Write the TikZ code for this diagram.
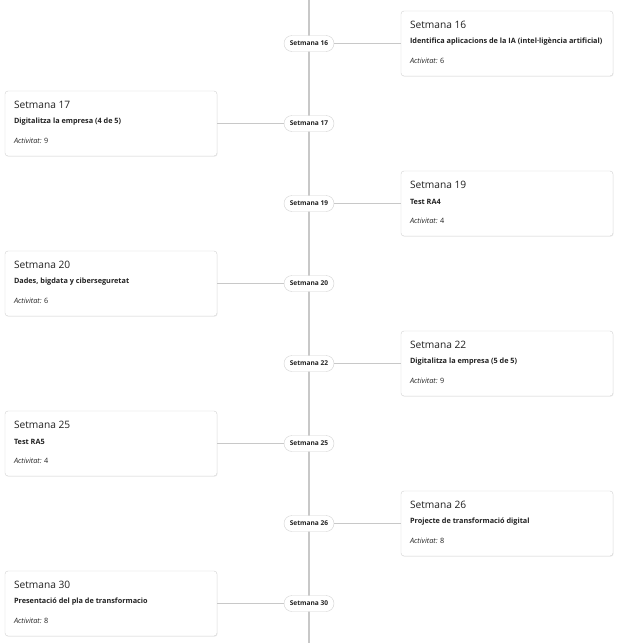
\documentclass[tikz,border=0pt]{standalone}
\usepackage{fontspec}
\setmainfont{Open Sans}
\usetikzlibrary{shadows}
\definecolor{lineg}{HTML}{C8C8C8}
\definecolor{boxg}{HTML}{D2D2D2}
\definecolor{txt}{HTML}{222222}
\tikzset{
  pill/.style={draw=boxg, fill=white, rounded corners=8pt, minimum width=50pt, minimum height=16pt, inner sep=0pt, font=\fontsize{6.6}{7}\selectfont\bfseries, text=txt},
  card/.style={draw=boxg, fill=white, rounded corners=3pt, minimum width=212pt, minimum height=65pt, inner sep=0pt, drop shadow={shadow xshift=0.6pt, shadow yshift=-0.8pt, opacity=0.12}},
  ttl/.style={anchor=west, inner sep=0pt, font=\fontsize{10.2}{12}\selectfont, text=txt},
  sub/.style={anchor=west, inner sep=0pt, font=\fontsize{7.3}{9}\selectfont\bfseries, text=txt},
  act/.style={anchor=west, inner sep=0pt, font=\fontsize{7.3}{9}\selectfont, text=txt},
  conn/.style={draw=lineg, line width=0.9pt},
  spine/.style={draw=lineg, line width=2pt}
}
\newcommand{\entry}[6]{% name, side x-center, y, week, subtitle, activity
  \node[card] (#1c) at (#2,#3) {};
  \node[ttl] (#1t) at ([xshift=9pt,yshift=-14pt]#1c.north west) {Setmana #4};
  \node[sub] (#1s) at ([xshift=9pt,yshift=-31pt]#1c.north west) {#5};
  \node[act] (#1a) at ([xshift=9pt,yshift=-50.5pt]#1c.north west) {\textit{Activitat:} #6};
  \node[pill] (#1p) at (309,#3) {Setmana #4};
  \draw[conn] (#1p) -- (#1c);
}
\begin{document}
\begin{tikzpicture}[x=1pt,y=-1pt]
\useasboundingbox (0,0) rectangle (622,643);
\coordinate (top) at (309,0);
\coordinate (bot) at (309,643);
\draw[spine] (top) -- (bot);
\entry{a}{507}{43.5}{16}{Identifica aplicacions de la IA (intel·ligència artificial)}{6}
\entry{b}{111}{123.5}{17}{Digitalitza la empresa (4 de 5)}{9}
\entry{c}{507}{203.5}{19}{Test RA4}{4}
\entry{d}{111}{283.5}{20}{Dades, bigdata y ciberseguretat}{6}
\entry{e}{507}{363.5}{22}{Digitalitza la empresa (5 de 5)}{9}
\entry{f}{111}{443.5}{25}{Test RA5}{4}
\entry{g}{507}{523.5}{26}{Projecte de transformació digital}{8}
\entry{h}{111}{603.5}{30}{Presentació del pla de transformacio}{8}
\end{tikzpicture}
\end{document}
